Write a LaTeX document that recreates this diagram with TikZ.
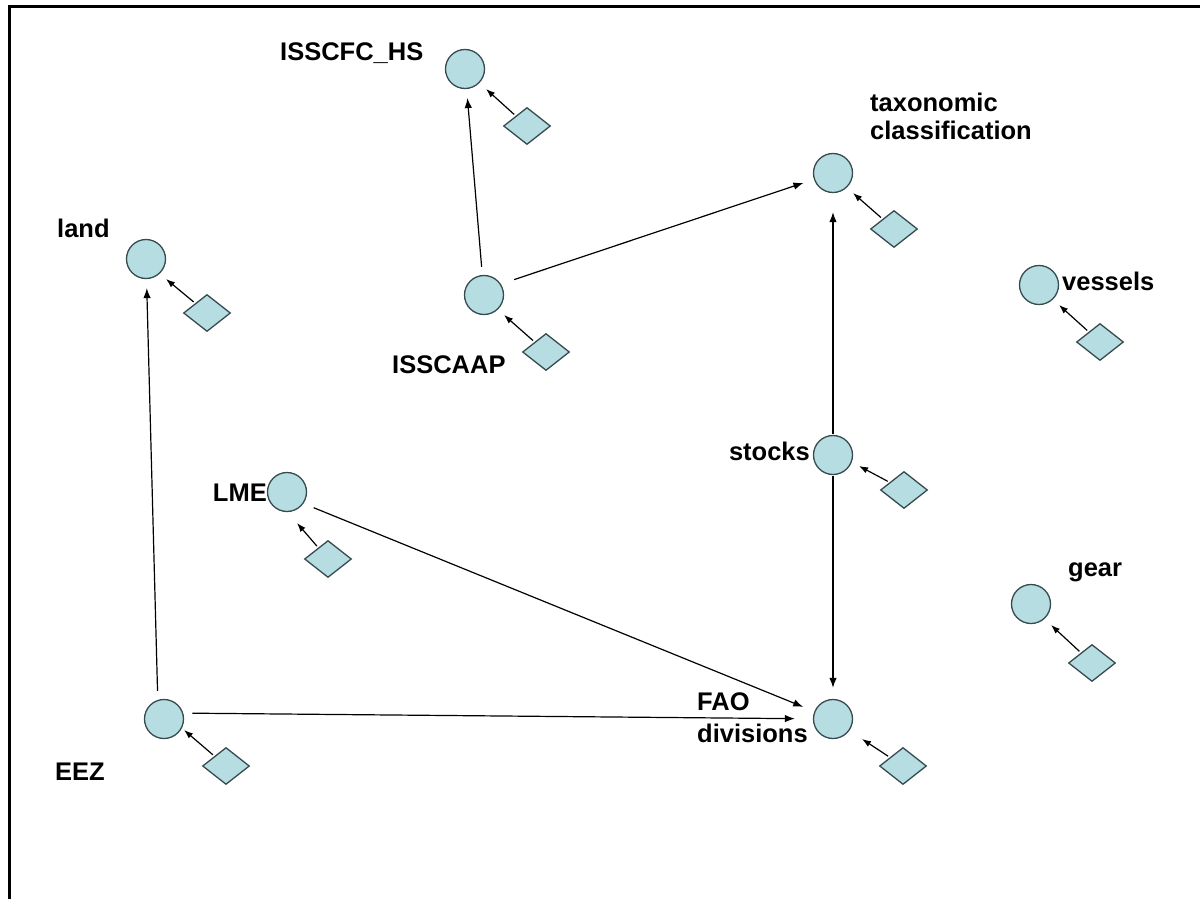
\documentclass[tikz,border=0pt]{standalone}
\usepackage{fontspec}
\setmainfont{Liberation Sans}
\usetikzlibrary{shapes.geometric,arrows.meta}
\definecolor{nodefill}{RGB}{182,221,226}
\definecolor{nodeline}{RGB}{55,75,78}
\pgfdeclarelayer{back}
\pgfsetlayers{back,main}
\begin{document}
\begin{tikzpicture}[x=1pt,y=-1pt,
  entity/.style={circle,draw=nodeline,fill=nodefill,line width=1.3pt,minimum size=39pt,inner sep=0pt},
  attr/.style={diamond,draw=nodeline,fill=nodefill,line width=1.3pt,minimum width=47pt,minimum height=37pt,inner sep=0pt},
  lbl/.style={font=\bfseries\fontsize{25.5}{28}\selectfont,inner sep=0pt},
  link/.style={line width=1.2pt,-{Latex[length=10pt,width=7.5pt]}},
  tick/.style={line width=1.2pt,-{Latex[length=9pt,width=6.5pt]},shorten <=2pt}]
\useasboundingbox (0,0) rectangle (1200,899);
\begin{pgfonlayer}{back}
\fill[white] (0,0) rectangle (1200,899);
\draw[line width=3pt] (9,899) -- (9,7) -- (1200,7);
\end{pgfonlayer}

% entities
\node[entity] (hs)    at (465,69)  {};
\node[entity] (tax)   at (833,173) {};
\node[entity] (land)  at (146,259) {};
\node[entity] (isscaap) at (484,295) {};
\node[entity] (vessels) at (1039,285) {};
\node[entity] (stocks) at (833,455) {};
\node[entity] (lme)   at (287,492) {};
\node[entity] (gear)  at (1031,604) {};
\node[entity] (eez)   at (164,719) {};
\node[entity] (fao)   at (833,719) {};

% attribute diamonds
\node[attr] (hsA)      at (527,126) {};
\node[attr] (taxA)     at (894,229) {};
\node[attr] (landA)    at (207,313) {};
\node[attr] (isscaapA) at (546,352) {};
\node[attr] (vesselsA) at (1100,342) {};
\node[attr] (stocksA)  at (904,490) {};
\node[attr] (lmeA)     at (328,559) {};
\node[attr] (gearA)    at (1092,663) {};
\node[attr] (eezA)     at (226,766) {};
\node[attr] (faoA)     at (903,766) {};

% tips of the attribute arrows
\coordinate (hsT)      at (486,89);
\coordinate (taxT)     at (853,193);
\coordinate (landT)    at (166,279);
\coordinate (isscaapT) at (504,315);
\coordinate (vesselsT) at (1059,305);
\coordinate (stocksT)  at (859,466);
\coordinate (lmeT)     at (297,523);
\coordinate (gearT)    at (1051,625);
\coordinate (eezT)     at (184,730);
\coordinate (faoT)     at (862,739);

\foreach \n in {hs,tax,land,isscaap,vessels,stocks,lme,gear,eez,fao}
  \draw[tick] (\n A) -- (\n T);

% labels
\node[lbl,anchor=base west] (hsL) at (280,61) {ISSCFC\_HS};
\node[lbl,anchor=north west,align=left] (taxL) at (870,93) {taxonomic\\classification};
\node[lbl,anchor=base west] (landL) at (57,237) {land};
\node[lbl,anchor=base west] (isscaapL) at (392,373) {ISSCAAP};
\node[lbl,anchor=base west] (vesselsL) at (1062,290) {vessels};
\node[lbl,anchor=base east] (stocksL) at (810,460) {stocks};
\node[lbl,anchor=base east] (lmeL) at (267,501) {LME};
\node[lbl,anchor=base west] (gearL) at (1068,576) {gear};
\node[lbl,anchor=base west] (eezL) at (55,780) {EEZ};

% relationships
\begin{pgfonlayer}{back}
\draw[link,shorten <=8pt,shorten >=9pt] (isscaap) -- (hs);
\draw[link,shorten <=14pt,shorten >=11pt] (isscaap.33) -- (tax);
\draw[link,shorten <=1pt,shorten >=19pt] (stocks) -- (tax);
\draw[link,shorten <=1pt,shorten >=11pt] (stocks) -- (fao);
\draw[link,shorten <=9pt,shorten >=9pt] (eez.108) -- (land);
\draw[link,shorten <=11pt,shorten >=12pt] (lme.-35) -- (fao);
\draw[link,shorten <=9pt,shorten >=18pt] (eez.17) -- (fao);
\end{pgfonlayer}

\node[lbl,font=\bfseries\fontsize{25.5}{32}\selectfont,anchor=north west,align=left] (faoL) at (697,692) {FAO\\divisions};
\end{tikzpicture}
\end{document}
